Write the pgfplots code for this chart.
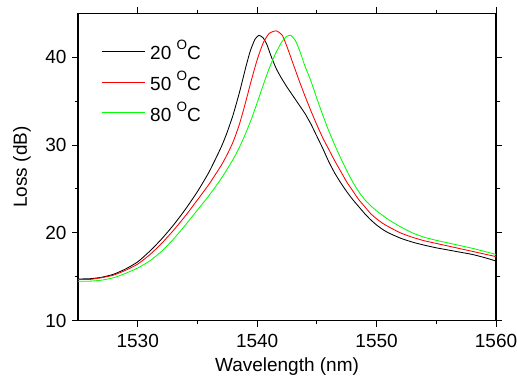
\documentclass[border=0pt]{standalone}
\usepackage{pgfplots}
\pgfplotsset{compat=1.18}
\usepackage{fontspec}
\setmainfont{Liberation Sans}
\definecolor{pgreen}{RGB}{0,255,0}
\definecolor{pred}{RGB}{255,0,0}
\newcommand{\degO}{\raisebox{10pt}{\fontsize{13.5}{14}\selectfont O}}
\begin{document}
\fontsize{19}{22}\selectfont
\begin{tikzpicture}
\begin{axis}[
  scale only axis,
  width=418pt, height=307.4pt,
  xmin=1525, xmax=1560, ymin=10, ymax=45,
  xtick={1530,1540,1550,1560},
  ytick={10,20,30,40},
  minor x tick num=1, minor y tick num=1,
  tick align=outside,
  major tick length=6pt, minor tick length=3.5pt,
  every tick/.style={line width=1pt, black},
  axis line style={line width=1.1pt},
  /pgf/number format/1000 sep={},
  /pgf/number format/assume math mode=true,
  tick label style={font=\fontsize{19}{22}\selectfont},
  label style={font=\fontsize{19}{22}\selectfont},
  xlabel={Wavelength (nm)},
  ylabel={Loss (dB)},
  xlabel style={at={(axis description cs:0.5,-0.148)}, anchor=center},
  ylabel style={at={(axis description cs:-0.134,0.5)}, anchor=center, rotate=0},
  xticklabel style={yshift=-1pt},
  yticklabel style={xshift=1pt},
  legend cell align=left,
  legend style={draw=none, fill=none, at={(axis description cs:0.055,0.92)}, anchor=north west,
    inner xsep=0pt, inner ysep=0pt,
    font=\fontsize{19}{22}\selectfont, row sep=4.5pt, column sep=3pt},
  legend image code/.code={\draw[#1, line width=1pt] (0pt,0pt) -- (43pt,0pt);},
]
\addplot[black, line width=0.85pt, smooth, tension=0.35] coordinates {
(1525,14.75)(1526,14.78)(1527,14.95)(1528,15.3)(1529,15.9)(1530,16.7)(1531,17.9)
(1532,19.3)(1533,20.9)(1534,22.7)(1535,24.7)(1536,27.0)(1537,29.8)(1537.5,31.5)
(1538,33.5)(1538.5,35.9)(1539,38.6)(1539.4,40.6)(1539.8,42.0)(1540.15,42.5)
(1540.5,42.2)(1540.8,41.5)(1541.2,40.0)(1541.6,38.7)(1542,37.7)(1542.5,36.6)
(1543,35.6)(1543.5,34.6)(1544,33.6)(1544.5,32.4)(1545,31.0)(1545.5,29.6)
(1546,28.1)(1546.5,26.8)(1547,25.7)(1547.5,24.7)(1548,23.8)(1548.5,23.0)
(1549,22.2)(1549.5,21.5)(1550,20.9)(1550.5,20.4)(1551,20.0)(1552,19.4)
(1553,18.95)(1554,18.6)(1555,18.3)(1556,18.05)(1557,17.8)(1558,17.55)
(1559,17.2)(1560,16.8)
};
\addlegendentry{20 \degO C}
\addplot[pred, line width=0.85pt, smooth, tension=0.35] coordinates {
(1525,14.7)(1526,14.7)(1527,14.9)(1528,15.2)(1529,15.75)(1530,16.45)(1531,17.5)
(1532,18.8)(1533,20.3)(1534,21.95)(1535,23.75)(1536,25.6)(1537,27.7)(1537.5,28.95)
(1538,30.4)(1538.5,32.3)(1539,34.7)(1539.5,37.3)(1540,39.7)(1540.5,41.6)
(1541,42.7)(1541.6,43.0)(1542.1,42.5)(1542.5,41.2)(1543,39.3)(1543.5,37.4)
(1544,35.6)(1544.5,33.9)(1545,32.3)(1545.5,30.8)(1546,29.5)(1546.5,28.2)
(1547,27.0)(1547.5,25.8)(1548,24.8)(1548.5,23.8)(1549,23.0)(1549.5,22.2)
(1550,21.6)(1550.5,21.1)(1551,20.7)(1552,20.0)(1553,19.5)(1554,19.1)
(1555,18.8)(1556,18.5)(1557,18.2)(1558,17.9)(1559,17.6)(1560,17.3)
};
\addlegendentry{50 \degO C}
\addplot[pgreen, line width=0.85pt, smooth, tension=0.35] coordinates {
(1525,14.5)(1526,14.5)(1527,14.62)(1528,14.9)(1529,15.4)(1530,16.0)(1531,16.8)
(1532,17.9)(1533,19.3)(1534,20.9)(1535,22.6)(1536,24.3)(1537,26.2)(1538,28.4)
(1538.5,29.7)(1539,31.2)(1539.5,32.9)(1540,34.8)(1540.5,36.8)(1541,38.7)
(1541.5,40.3)(1542,41.6)(1542.4,42.3)(1542.8,42.5)(1543.2,41.9)(1543.6,40.6)
(1544,39.0)(1544.5,37.3)(1545,35.3)(1545.5,33.4)(1546,31.6)(1546.5,30.0)
(1547,28.5)(1547.5,27.1)(1548,25.8)(1548.5,24.7)(1549,23.8)(1549.5,23.1)
(1550,22.5)(1550.5,22.0)(1551,21.5)(1552,20.7)(1553,20.0)(1554,19.5)
(1555,19.15)(1556,18.85)(1557,18.55)(1558,18.25)(1559,17.9)(1560,17.55)
};
\addlegendentry{80 \degO C}
\end{axis}
\pgfresetboundingbox
\path[use as bounding box] ([xshift=-78pt,yshift=-57.3pt]current axis.south west) rectangle ([xshift=21pt,yshift=13.3pt]current axis.north east);
\end{tikzpicture}
\end{document}
